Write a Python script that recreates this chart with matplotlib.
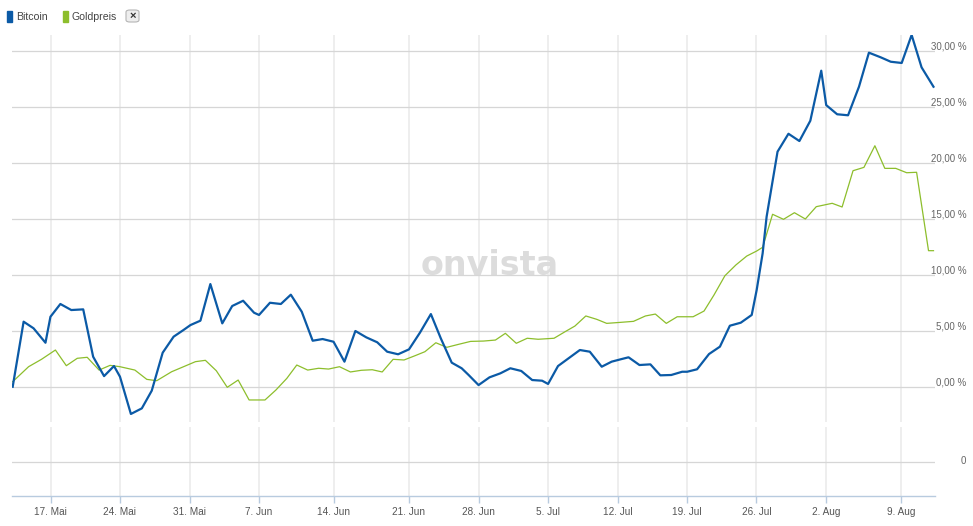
import numpy as np
import matplotlib
matplotlib.use("Agg")
import matplotlib.pyplot as plt
from matplotlib.patches import Rectangle, FancyBboxPatch
from matplotlib import transforms

# --- data (x = day position on the chart's time axis, y = performance in %) ---
series_names = ["Bitcoin", "Goldpreis"]

btc_x = [0.0, 1.1, 2.1, 3.3, 3.8, 4.8, 5.9, 7.1, 8.1, 9.2, 10.2, 10.8, 11.9, 13.0, 14.0,
         15.1, 16.2, 17.2, 17.9, 18.9, 19.9, 21.1, 22.1, 23.2, 24.3, 24.8, 25.9, 27.0,
         28.0, 29.1, 30.2, 31.2, 32.3, 33.4, 34.5, 35.6, 36.7, 37.7, 38.8, 39.9, 41.0,
         42.1, 43.1, 44.2, 45.2, 45.9, 46.9, 48.0, 49.1, 50.1, 51.2, 52.3, 53.3, 53.9,
         54.9, 56.1, 57.1, 58.1, 59.3, 60.3, 61.2, 62.0, 63.1, 64.2, 65.2, 66.3, 67.4,
         67.9, 68.9, 70.1, 71.2, 72.2, 73.3, 74.4, 74.9, 75.5, 75.9, 77.0, 78.1, 79.2,
         80.3, 81.4, 81.9, 83.0, 84.1, 85.2, 86.2, 87.4, 88.4, 89.5, 90.5, 91.5, 92.7]
btc_y = [0.05, 5.86, 5.27, 3.98, 6.30, 7.44, 6.90, 6.96, 2.73, 1.00, 1.90, 0.95, -2.38, -1.88,
         -0.30, 3.09, 4.52, 5.12, 5.56, 5.95, 9.22, 5.71, 7.26, 7.73, 6.66, 6.46, 7.55, 7.44,
         8.27, 6.75, 4.16, 4.31, 4.07, 2.29, 5.03, 4.46, 4.02, 3.18, 2.95, 3.39, 4.88, 6.54,
         4.37, 2.20, 1.70, 1.10, 0.20, 0.89, 1.25, 1.70, 1.46, 0.65, 0.59, 0.30, 1.90, 2.68,
         3.33, 3.18, 1.84, 2.29, 2.50, 2.68, 1.99, 2.05, 1.07, 1.10, 1.39, 1.39, 1.61, 2.97,
         3.63, 5.50, 5.77, 6.46, 8.69, 11.96, 15.23, 21.04, 22.64, 21.99, 23.80, 28.27, 25.20,
         24.38, 24.29, 26.84, 29.88, 29.46, 29.07, 28.96, 31.46, 28.57, 26.84]

gold_x = [0.0, 1.6, 2.9, 4.3, 5.4, 6.5, 7.5, 8.7, 9.8, 10.8, 12.3, 13.5, 14.5, 16.0, 17.2,
          18.4, 19.4, 20.5, 21.6, 22.7, 23.8, 25.4, 26.5, 27.6, 28.6, 29.7, 30.8, 31.8,
          32.9, 34.0, 35.1, 36.2, 37.2, 38.3, 39.4, 40.5, 41.5, 42.6, 43.7, 44.9, 46.1,
          47.4, 48.6, 49.6, 50.7, 51.8, 52.9, 54.5, 55.6, 56.6, 57.7, 58.8, 59.8, 61.2,
          62.5, 63.7, 64.7, 65.8, 66.9, 68.5, 69.6, 70.6, 71.7, 72.8, 73.9, 74.9, 75.5,
          76.5, 77.6, 78.7, 79.8, 80.9, 82.5, 83.5, 84.6, 85.7, 86.8, 87.8, 88.9, 90.0,
          91.0, 92.2, 92.7]
gold_y = [0.50, 1.84, 2.50, 3.33, 1.93, 2.59, 2.68, 1.54, 1.96, 1.84, 1.54, 0.71, 0.59, 1.39,
          1.84, 2.29, 2.41, 1.48, 0.00, 0.65, -1.13, -1.13, -0.24, 0.80, 1.99, 1.54, 1.70,
          1.63, 1.84, 1.37, 1.52, 1.57, 1.37, 2.50, 2.44, 2.82, 3.18, 3.98, 3.57, 3.84, 4.10,
          4.13, 4.22, 4.82, 3.93, 4.38, 4.29, 4.38, 4.96, 5.47, 6.37, 6.07, 5.71, 5.80, 5.89,
          6.37, 6.54, 5.71, 6.30, 6.30, 6.81, 8.24, 9.96, 10.92, 11.72, 12.17, 12.50, 15.45,
          15.00, 15.59, 15.03, 16.13, 16.43, 16.10, 19.34, 19.64, 21.57, 19.55, 19.55, 19.16,
          19.20, 12.20, 12.20]

tick_labels = ["17. Mai", "24. Mai", "31. Mai", "7. Jun", "14. Jun", "21. Jun", "28. Jun",
               "5. Jul", "12. Jul", "19. Jul", "26. Jul", "2. Aug", "9. Aug"]
tick_pos = [3.83, 10.78, 17.82, 24.77, 32.33, 39.88, 46.93, 53.91, 60.93, 67.87, 74.88,
            81.87, 89.46]
y_ticks = [0, 5, 10, 15, 20, 25, 30]

blue = "#0b5aa6"
green = "#8dbe2c"
txt_gray = "#666666"

fig = plt.figure(figsize=(9.73, 5.26), dpi=100)
fig.patch.set_facecolor("white")
plt.rcParams["font.family"] = ["Liberation Sans", "DejaVu Sans"]

ax = fig.add_axes([0.01233, 0.1983, 0.9491, 0.7352])
ax2 = fig.add_axes([0.01233, 0.05646, 0.9491, 0.13232], sharex=ax)

for a in (ax, ax2):
    for s in a.spines.values():
        s.set_visible(False)
    a.set_yticks([])
    for p in tick_pos:
        a.axvline(p, color="#ededed", lw=1.3, zorder=0)

ax.set_xlim(-0.07, 92.9)
ax.set_ylim(-3.07, 31.46)
for v in y_ticks:
    ax.axhline(v, color="#d6d6d6", lw=0.9, zorder=1)

# watermark
ax.text(0.517, 0.405, "onvista", transform=ax.transAxes, fontsize=24, fontweight="bold",
        color="#dcdcdc", ha="center", va="center", family="DejaVu Sans", zorder=0.5)

ax.plot(gold_x, gold_y, color=green, lw=0.9, zorder=3)
ax.plot(btc_x, btc_y, color=blue, lw=1.6, zorder=4)

lbl_tr = transforms.offset_copy(transforms.blended_transform_factory(ax.transAxes, ax.transData),
                                fig=fig, y=5, units="dots")
for v in y_ticks:
    ax.text(1.0335, v, ("%.2f" % v).replace(".", ",") + " %", transform=lbl_tr,
            ha="right", va="center", fontsize=7, color=txt_gray)
ax.tick_params(axis="x", bottom=False, labelbottom=False)

# lower panel
ax2.set_ylim(-1, 1)
ax2.axhline(0, color="#d6d6d6", lw=0.9, zorder=1)
ax2.spines["bottom"].set_visible(True)
ax2.spines["bottom"].set_color("#b8cbdf")
ax2.spines["bottom"].set_linewidth(1.0)
ax2.set_xticks(tick_pos)
ax2.set_xticklabels(tick_labels)
ax2.tick_params(axis="x", direction="out", length=5, width=1, color="#b8cbdf",
                labelsize=7.2, labelcolor="#555555", pad=2.5)
ax2.text(1.0335, 0, "0", transform=transforms.offset_copy(
    transforms.blended_transform_factory(ax2.transAxes, ax2.transData), fig=fig, y=1, units="dots"),
         ha="right", va="center", fontsize=7, color=txt_gray)

# legend
leg_x = [7, 63]
leg_col = [blue, green]
for i, name in enumerate(series_names):
    fig.patches.append(Rectangle((leg_x[i] / 973, 1 - 22 / 526), 5 / 973, 11 / 526,
                                 transform=fig.transFigure, color=leg_col[i]))
    fig.text((leg_x[i] + 9) / 973, 1 - 16.5 / 526, name, fontsize=7.6, color="#444444",
             ha="left", va="center")
fig.patches.append(FancyBboxPatch((126 / 973, 1 - 22 / 526), 13 / 973, 12 / 526,
                                  boxstyle="round,pad=0,rounding_size=0.004",
                                  transform=fig.transFigure, facecolor="#eeeeee",
                                  edgecolor="#b5b5b5", lw=0.8))
fig.text(132.5 / 973, 1 - 16 / 526, "\u00d7", fontsize=8, color="#333333",
         ha="center", va="center", fontweight="bold")

fig.savefig("out.png", dpi=100)
